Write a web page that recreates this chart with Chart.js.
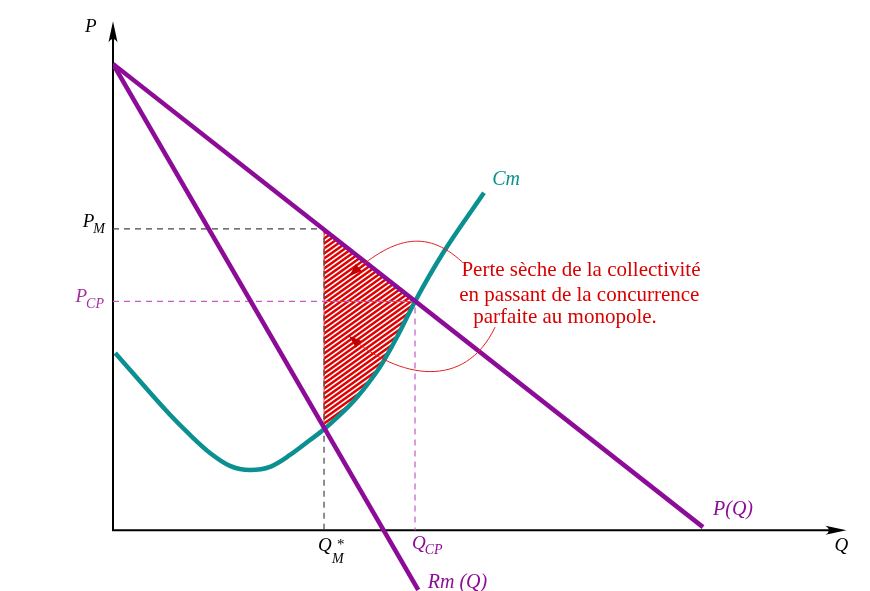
<!DOCTYPE html>
<html lang="fr">
<head>
<meta charset="utf-8">
<title>Perte sèche du monopole</title>
<script src="https://cdn.jsdelivr.net/npm/chart.js@4.4.1/dist/chart.umd.min.js"></script>
<style>
  html, body { margin: 0; padding: 0; background: #fff; }
  #wrap { position: relative; width: 870px; height: 591px; }
</style>
</head>
<body>
<div id="wrap"><canvas id="monopoleChart"></canvas></div>
<script>
// values (Q on x, P on y)
const demandQ = [0, 80.6];
const demandP = [90.5, 0.6];
const rmQ = [0, 41.7];
const rmP = [90.5, -11.6];
const cmQ = [0.3, 7.79, 10.52, 13.25, 15.98, 18.72, 21.45, 24.18, 26.91, 28.83, 32.38, 34.15, 36.48, 38.8, 41.26, 45.08, 50.68];
const cmP = [34.4, 22.4, 18.5, 15.0, 12.5, 11.7, 12.3, 14.6, 17.5, 19.6, 24.3, 27.2, 31.7, 37.5, 44.4, 53.8, 65.5];
const qM = 28.83, pM = 58.5;
const qCP = 41.26, pCP = 44.4;
const axisQ = [0, 100.2];
const axisP = [0, 98.8];

const annotLines = ['Perte sèche de la collectivité', 'en passant de la concurrence', 'parfaite au monopole.'];
const annotAnchors = [[47.6, 49.3], [47.3, 44.5], [49.2, 40.2]];
const annotCurves = [
  [[47.68, 52.1], [42.62, 58.7], [38.11, 56.7], [32.24, 49.3]],
  [[52.19, 39.4], [48.09, 27.2], [39.21, 29.2], [32.24, 37.7]]
];

const PURPLE = '#8c0c98';
const TEAL = '#0a9090';
const RED = '#d80000';

const pts = (xs, ys) => xs.map((v, i) => ({ x: v, y: ys[i] }));

// hatched dead-weight loss, split at P_CP
const upperHatch = [{x: qM, y: pM}, {x: qCP, y: pCP}, {x: qM, y: pCP}, {x: qM, y: pM}];
const cmInside = pts(cmQ, cmP).filter(p => p.x >= qM && p.x <= qCP).reverse();
const lowerHatch = [{x: qM, y: pCP}, {x: qCP, y: pCP}].concat(cmInside, [{x: qM, y: pCP}]);

function hatchPattern() {
  const w = 7, h = 5;
  const c = document.createElement('canvas');
  c.width = w; c.height = h;
  const g = c.getContext('2d');
  g.fillStyle = '#fff';
  g.fillRect(0, 0, w, h);
  g.strokeStyle = '#e00000';
  g.lineWidth = 2.5;
  g.beginPath();
  for (let k = -1; k <= 1; k++) {
    g.moveTo(-1, h * (1 + k) + h / w);
    g.lineTo(w + 1, h * k - h / w);
  }
  g.stroke();
  return g.createPattern(c, 'repeat');
}

function font(size, italic) {
  return (italic ? 'italic ' : '') + size + 'px "Liberation Serif", "DejaVu Serif", serif';
}

const axesPlugin = {
  id: 'axes',
  beforeDatasetsDraw(chart) {
    const { ctx, scales: { x, y } } = chart;
    const x0 = x.getPixelForValue(axisQ[0]), y0 = y.getPixelForValue(axisP[0]);
    const xEnd = x.getPixelForValue(axisQ[1]), yTop = y.getPixelForValue(axisP[1]);
    ctx.save();
    ctx.strokeStyle = '#000';
    ctx.lineWidth = 2;
    ctx.beginPath();
    ctx.moveTo(x0, y0); ctx.lineTo(x0, yTop + 12);
    ctx.moveTo(x0 - 1, y0); ctx.lineTo(xEnd - 12, y0);
    ctx.stroke();
    ctx.fillStyle = '#000';
    ctx.beginPath();
    ctx.moveTo(x0, yTop);
    ctx.lineTo(x0 - 4.5, yTop + 21);
    ctx.quadraticCurveTo(x0, yTop + 14, x0 + 4.5, yTop + 21);
    ctx.closePath();
    ctx.fill();
    ctx.beginPath();
    ctx.moveTo(xEnd, y0);
    ctx.lineTo(xEnd - 21, y0 - 4.5);
    ctx.quadraticCurveTo(xEnd - 14, y0, xEnd - 21, y0 + 4.5);
    ctx.closePath();
    ctx.fill();
    ctx.restore();
  }
};

const labelsPlugin = {
  id: 'labels',
  afterDatasetsDraw(chart) {
    const { ctx, scales: { x, y } } = chart;
    const x0 = x.getPixelForValue(0), y0 = y.getPixelForValue(0);
    const xEnd = x.getPixelForValue(axisQ[1]), yTop = y.getPixelForValue(axisP[1]);
    ctx.save();
    ctx.textAlign = 'left';
    ctx.textBaseline = 'alphabetic';

    const txt = (s, px, py, size, italic, color) => {
      ctx.font = font(size, italic);
      ctx.fillStyle = color;
      ctx.fillText(s, px, py);
      return ctx.measureText(s).width;
    };

    // axis names
    txt('P', x0 - 28, yTop + 11, 19, true, '#000');
    txt('Q', xEnd - 12, y0 + 21, 19, true, '#000');

    // P_M
    let yy = y.getPixelForValue(pM);
    ctx.font = font(19, true);
    const wP = ctx.measureText('P').width;
    ctx.font = font(14, true);
    let wS = ctx.measureText('M').width;
    let left = x0 - 8 - (wP + wS - 1);
    txt('P', left, yy - 2, 19, true, '#000');
    txt('M', left + wP - 1, yy + 4, 14, true, '#000');

    // P_CP
    yy = y.getPixelForValue(pCP);
    ctx.font = font(14, true);
    wS = ctx.measureText('CP').width;
    left = x0 - 9 - (wP + wS - 1);
    txt('P', left, yy + 1, 19, true, '#a0309f');
    txt('CP', left + wP - 1, yy + 7, 14, true, '#a0309f');

    // Q*_M
    let xx = x.getPixelForValue(qM);
    txt('Q', xx - 6, y0 + 21, 19, true, '#000');
    txt('*', xx + 13, y0 + 19, 15, false, '#000');
    txt('M', xx + 8, y0 + 33, 14, true, '#000');

    // Q_CP
    xx = x.getPixelForValue(qCP);
    const wq = txt('Q', xx - 3, y0 + 19, 19, true, PURPLE);
    txt('CP', xx - 3 + wq - 1, y0 + 24, 14, true, PURPLE);

    // curve names
    txt('Cm', x.getPixelForValue(51.8), y.getPixelForValue(67.0), 20, true, TEAL);
    txt('P(Q)', x.getPixelForValue(81.97), y.getPixelForValue(2.95), 20, true, PURPLE);
    txt('Rm (Q)', x.getPixelForValue(43.0), y.getPixelForValue(-11.2), 20, true, PURPLE);

    // annotation
    annotLines.forEach((s, i) => {
      txt(s, x.getPixelForValue(annotAnchors[i][0]), y.getPixelForValue(annotAnchors[i][1]), 21, false, RED);
    });

    ctx.strokeStyle = '#e02020';
    ctx.fillStyle = '#c00000';
    ctx.lineWidth = 1;
    annotCurves.forEach(c => {
      const p = c.map(v => [x.getPixelForValue(v[0]), y.getPixelForValue(v[1])]);
      ctx.beginPath();
      ctx.moveTo(p[0][0], p[0][1]);
      ctx.bezierCurveTo(p[1][0], p[1][1], p[2][0], p[2][1], p[3][0], p[3][1]);
      ctx.stroke();
      const a = Math.atan2(p[3][1] - p[2][1], p[3][0] - p[2][0]);
      const L = 13, W = 4.5;
      ctx.beginPath();
      ctx.moveTo(p[3][0], p[3][1]);
      ctx.lineTo(p[3][0] - L * Math.cos(a) + W * Math.sin(a), p[3][1] - L * Math.sin(a) - W * Math.cos(a));
      ctx.lineTo(p[3][0] - L * Math.cos(a) - W * Math.sin(a), p[3][1] - L * Math.sin(a) + W * Math.cos(a));
      ctx.closePath();
      ctx.fill();
    });
    ctx.restore();
  }
};

const hatch = hatchPattern();

new Chart(document.getElementById('monopoleChart'), {
  type: 'scatter',
  data: {
    datasets: [
      { label: 'P(Q)', data: pts(demandQ, demandP), showLine: true, borderColor: PURPLE, borderWidth: 4.5, pointRadius: 0 },
      { label: 'Rm (Q)', data: pts(rmQ, rmP), showLine: true, borderColor: PURPLE, borderWidth: 4.5, pointRadius: 0 },
      { label: 'Cm', data: pts(cmQ, cmP), showLine: true, borderColor: TEAL, borderWidth: 4.5, pointRadius: 0,
        cubicInterpolationMode: 'monotone' },
      { label: 'P_M', data: [{x: 0, y: pM}, {x: qM, y: pM}, {x: qM, y: 0}], showLine: true,
        borderColor: '#444', borderWidth: 1.2, borderDash: [6, 5], pointRadius: 0 },
      { label: 'P_CP', data: [{x: 0, y: pCP}, {x: qCP, y: pCP}, {x: qCP, y: 0}], showLine: true,
        borderColor: '#c35cc8', borderWidth: 1.2, borderDash: [6, 5], pointRadius: 0 },
      { label: 'hatch1', data: upperHatch, showLine: true, fill: 'shape', backgroundColor: hatch,
        borderColor: '#e84040', borderWidth: 1, pointRadius: 0 },
      { label: 'hatch2', data: lowerHatch, showLine: true, fill: 'shape', backgroundColor: hatch,
        borderColor: '#e84040', borderWidth: 1, pointRadius: 0 }
    ]
  },
  options: {
    responsive: true,
    maintainAspectRatio: false,
    animation: false,
    events: [],
    layout: { padding: { left: 113, right: 25, top: 15, bottom: 0 } },
    scales: {
      x: { type: 'linear', min: 0, max: 100, display: false },
      y: { type: 'linear', min: -11.8, max: 100, display: false }
    },
    plugins: {
      legend: { display: false },
      tooltip: { enabled: false }
    }
  },
  plugins: [axesPlugin, labelsPlugin]
});
</script>
</body>
</html>
